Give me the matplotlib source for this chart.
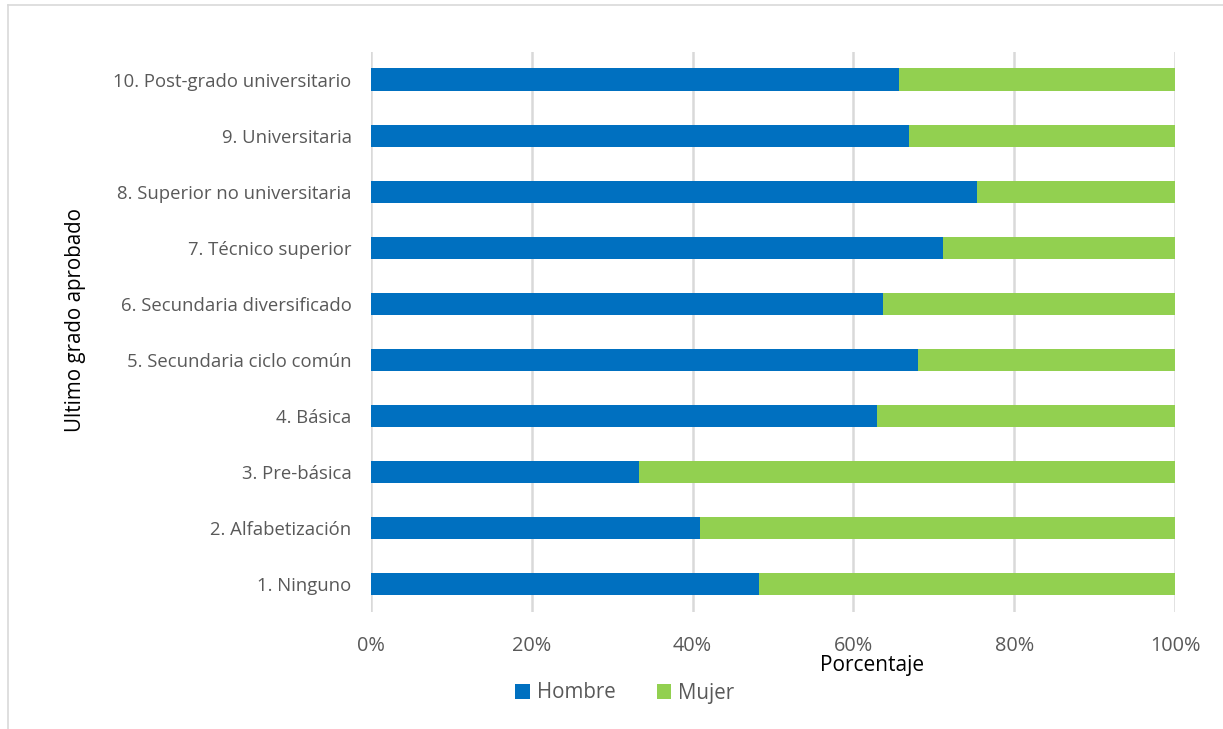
import matplotlib.pyplot as plt
from matplotlib.ticker import PercentFormatter
from matplotlib.lines import Line2D

categorias = ["1. Ninguno", "2. Alfabetización", "3. Pre-básica", "4. Básica",
              "5. Secundaria ciclo común", "6. Secundaria diversificado",
              "7. Técnico superior", "8. Superior no universitaria",
              "9. Universitaria", "10. Post-grado universitario"]
hombre = [48.3, 40.9, 33.3, 62.9, 68.0, 63.7, 71.1, 75.4, 66.9, 65.7]
mujer = [100 - h for h in hombre]

plt.rcParams['font.family'] = ['Open Sans', 'DejaVu Sans']

fig = plt.figure(figsize=(12.23, 7.29), dpi=100)
ax = fig.add_axes([0.3034, 0.1605, 0.6574, 0.7682])

y = range(len(categorias))
ax.barh(y, hombre, height=0.41, color='#0070C0', label='Hombre', zorder=3)
ax.barh(y, mujer, left=hombre, height=0.41, color='#92D050', label='Mujer', zorder=3)

ax.set_xlim(0, 100)
ax.set_ylim(-0.5, len(categorias) - 0.5)
ax.set_xticks([0, 20, 40, 60, 80, 100])
ax.xaxis.set_major_formatter(PercentFormatter(decimals=0))
ax.set_yticks(list(y))
ax.set_yticklabels(categorias)
ax.grid(axis='x', color='#d9d9d9', linewidth=1.8, zorder=0)
for s in ax.spines.values():
    s.set_visible(False)
ax.tick_params(axis='both', length=0, colors='#595959')
ax.tick_params(axis='y', pad=14, labelsize=13.3)
ax.tick_params(axis='x', pad=17, labelsize=14.3)

fig.text(872 / 1223, 1 - 665 / 729, 'Porcentaje', ha='center', va='center', fontsize=15, color='black')
fig.text(75 / 1223, 1 - 320 / 729, 'Ultimo grado aprobado', ha='center', va='center',
         rotation=90, fontsize=14.8, color='black')

leg = fig.legend(loc='center', bbox_to_anchor=(625 / 1223, 1 - 693 / 729), ncol=2,
                 frameon=False, fontsize=14.8, handlelength=0.7, handleheight=0.7,
                 columnspacing=2.0, handletextpad=0.35)
for t in leg.get_texts():
    t.set_color('#595959')

# marco exterior (solo borde izquierdo y superior visibles)
fig.add_artist(Line2D([8 / 1223, 8 / 1223], [0, 1 - 5 / 729], transform=fig.transFigure,
                      color='#d9d9d9', linewidth=1.2))
fig.add_artist(Line2D([8 / 1223, 1], [1 - 5 / 729, 1 - 5 / 729], transform=fig.transFigure,
                      color='#d9d9d9', linewidth=1.2))

fig.savefig('out.png', dpi=100)
